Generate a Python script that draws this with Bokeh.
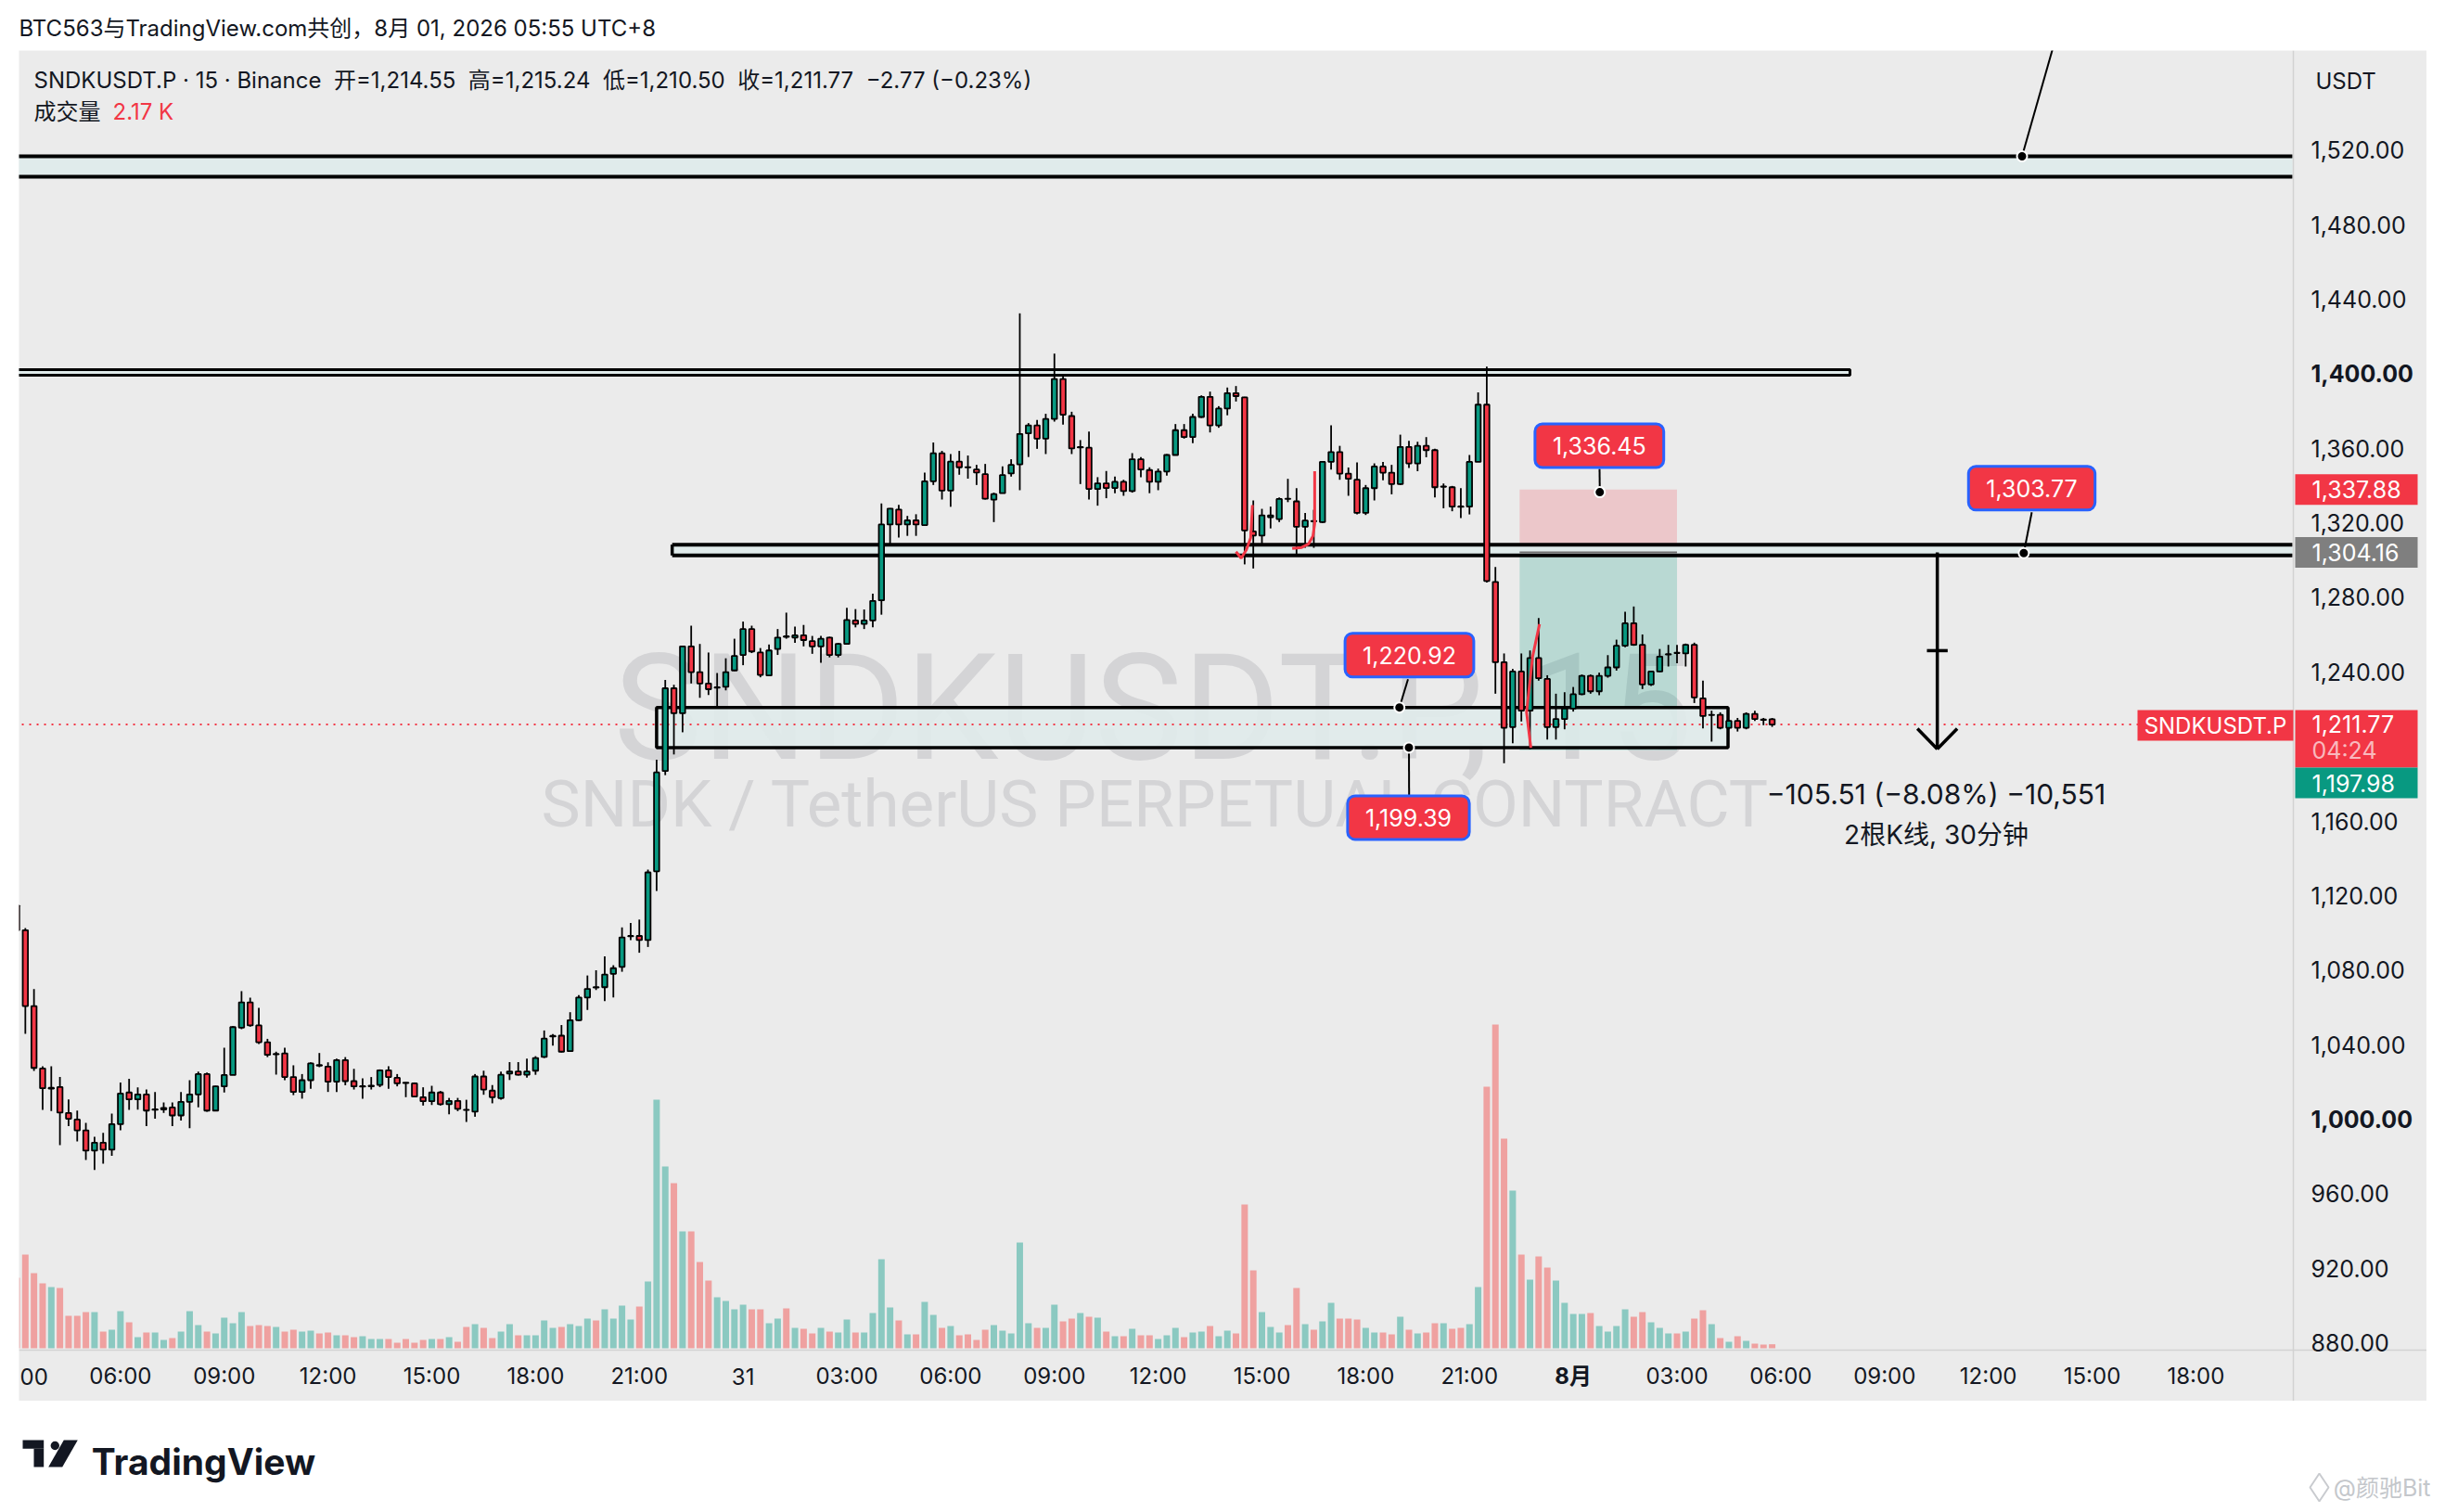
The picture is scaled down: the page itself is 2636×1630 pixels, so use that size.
from bokeh.plotting import figure
from bokeh.models import Range1d, Label, ColumnDataSource, Spacer
from bokeh.layouts import column, row
from bokeh.embed import file_html
from bokeh.resources import INLINE
from bokeh.core.properties import value

# ---------------- data (15-minute bars, bar 0 = Jul 30 03:00) ----------------
opens = [
    1114.6, 1101.4, 1060.7, 1027.2, 1016.4, 1017.2, 1003.3, 999.8, 994.0, 983.1,
    987.4, 983.6, 997.3, 1014.3, 1010.6, 1013.3, 1005.1, 1005.2, 1006.3, 1002.0,
    1009.3, 1013.3, 1024.2, 1004.6, 1017.6, 1023.7, 1049.1, 1062.7, 1050.3, 1041.3,
    1034.8, 1035.3, 1022.6, 1014.6, 1020.9, 1029.0, 1028.2, 1020.1, 1031.7, 1020.4,
    1017.5, 1017.6, 1018.4, 1026.2, 1022.2, 1019.6, 1019.2, 1011.8, 1009.6, 1014.3,
    1008.0, 1009.8, 1005.0, 1004.0, 1022.9, 1015.3, 1011.3, 1024.5, 1025.6, 1023.8,
    1026.0, 1033.4, 1044.4, 1044.8, 1036.5, 1053.1, 1065.3, 1070.9, 1070.8, 1078.0,
    1081.7, 1098.1, 1098.3, 1096.1, 1133.0, 1186.8, 1231.2, 1217.8, 1253.7, 1239.9,
    1233.8, 1231.5, 1232.0, 1240.8, 1249.1, 1263.0, 1250.4, 1238.1, 1252.3, 1259.1,
    1258.4, 1259.6, 1256.5, 1253.7, 1258.4, 1249.1, 1255.0, 1267.6, 1265.7, 1267.6,
    1278.4, 1319.1, 1327.1, 1319.1, 1321.3, 1318.8, 1342.3, 1357.3, 1337.3, 1352.8,
    1349.9, 1348.6, 1346.1, 1332.4, 1335.9, 1346.5, 1351.4, 1368.0, 1372.3, 1365.2,
    1375.7, 1397.2, 1377.3, 1360.5, 1360.3, 1338.2, 1341.2, 1338.7, 1342.0, 1337.0,
    1354.1, 1348.3, 1342.0, 1347.5, 1356.4, 1369.7, 1366.0, 1376.8, 1387.6, 1372.3,
    1381.3, 1389.6, 1387.3, 1315.4, 1313.2, 1323.0, 1322.0, 1332.9, 1331.5, 1317.9,
    1321.0, 1320.4, 1352.7, 1358.0, 1346.4, 1343.1, 1325.3, 1338.6, 1350.2, 1346.9,
    1340.8, 1360.7, 1351.9, 1361.3, 1359.0, 1339.3, 1339.1, 1328.8, 1328.7, 1352.7,
    1383.4, 1288.3, 1245.2, 1210.4, 1240.2, 1219.2, 1247.4, 1236.2, 1210.4, 1214.7,
    1220.3, 1228.0, 1237.9, 1229.6, 1237.9, 1242.4, 1254.0, 1266.1, 1254.5, 1233.3,
    1240.2, 1249.3, 1250.3, 1249.9, 1254.5, 1225.8, 1216.8, 1217.0, 1210.0, 1213.7,
    1210.0, 1217.5, 1214.4, 1214.55]
highs = [
    1116.0, 1102.5, 1069.8, 1028.4, 1028.4, 1022.6, 1010.6, 1004.6, 998.0, 990.5,
    992.7, 1003.0, 1019.6, 1021.6, 1017.1, 1015.9, 1014.6, 1008.9, 1008.9, 1014.6,
    1020.9, 1025.5, 1025.0, 1017.9, 1038.3, 1049.9, 1068.7, 1065.2, 1059.7, 1043.1,
    1036.2, 1038.3, 1028.9, 1024.2, 1030.5, 1035.5, 1030.5, 1032.5, 1033.3, 1027.0,
    1021.9, 1022.6, 1026.7, 1028.4, 1024.2, 1019.8, 1019.7, 1017.1, 1017.9, 1015.1,
    1011.4, 1011.4, 1010.4, 1024.2, 1026.0, 1018.3, 1025.5, 1030.6, 1030.6, 1032.5,
    1033.8, 1047.6, 1045.7, 1050.5, 1057.4, 1066.6, 1077.1, 1079.9, 1087.4, 1082.6,
    1102.9, 1105.3, 1107.1, 1133.9, 1192.9, 1235.7, 1233.1, 1254.1, 1264.8, 1255.0,
    1250.4, 1239.4, 1247.3, 1257.8, 1267.0, 1264.8, 1252.8, 1254.7, 1263.0, 1271.8,
    1264.3, 1265.2, 1259.3, 1259.3, 1258.9, 1255.6, 1274.4, 1273.7, 1273.5, 1282.0,
    1330.4, 1327.9, 1329.6, 1323.7, 1324.6, 1347.0, 1363.1, 1358.6, 1356.9, 1358.6,
    1356.1, 1351.1, 1351.6, 1336.2, 1350.3, 1354.1, 1432.4, 1373.5, 1375.2, 1378.5,
    1410.8, 1398.4, 1379.6, 1364.4, 1369.0, 1344.5, 1347.8, 1344.8, 1343.1, 1357.4,
    1355.3, 1349.8, 1349.1, 1356.9, 1373.0, 1373.0, 1378.5, 1388.4, 1390.4, 1382.6,
    1392.6, 1393.4, 1387.6, 1332.0, 1327.5, 1328.7, 1333.6, 1343.6, 1338.6, 1325.3,
    1327.0, 1353.0, 1372.3, 1361.3, 1349.7, 1352.4, 1340.3, 1351.9, 1352.7, 1351.1,
    1367.3, 1364.0, 1363.5, 1366.0, 1359.7, 1341.1, 1339.8, 1338.6, 1356.4, 1390.0,
    1403.8, 1296.3, 1249.9, 1241.6, 1249.9, 1251.5, 1268.9, 1238.2, 1228.3, 1229.1,
    1231.9, 1238.6, 1238.6, 1239.6, 1249.0, 1257.3, 1272.3, 1275.1, 1260.1, 1240.7,
    1252.3, 1254.5, 1254.5, 1255.2, 1255.7, 1235.3, 1219.2, 1218.3, 1214.2, 1215.3,
    1218.3, 1219.2, 1215.3, 1215.24]
lows = [
    1100.0, 1045.8, 1025.9, 1005.0, 1004.3, 986.1, 996.3, 988.0, 978.1, 972.8,
    976.1, 980.3, 994.0, 1005.0, 1005.1, 996.3, 1000.2, 1003.3, 996.3, 999.3,
    995.2, 1006.3, 1004.0, 1004.3, 1014.3, 1023.7, 1048.3, 1049.6, 1040.3, 1033.3,
    1023.9, 1020.9, 1012.9, 1011.0, 1016.3, 1027.9, 1014.6, 1014.6, 1018.2, 1015.9,
    1011.0, 1015.9, 1017.2, 1016.3, 1017.6, 1011.8, 1011.8, 1007.3, 1007.6, 1007.3,
    1002.6, 1004.3, 998.5, 1001.3, 1013.1, 1008.5, 1010.4, 1021.0, 1023.4, 1022.3,
    1023.8, 1032.8, 1039.5, 1035.8, 1036.1, 1052.7, 1058.6, 1069.3, 1063.4, 1065.3,
    1079.1, 1096.1, 1089.3, 1092.4, 1122.4, 1184.6, 1195.7, 1207.6, 1233.8, 1226.1,
    1227.6, 1221.5, 1230.1, 1240.5, 1243.6, 1250.1, 1237.1, 1237.7, 1249.1, 1257.8,
    1255.6, 1253.7, 1249.7, 1244.9, 1247.8, 1247.8, 1255.0, 1263.9, 1263.0, 1263.9,
    1270.7, 1308.8, 1312.1, 1313.0, 1313.0, 1318.5, 1340.3, 1332.5, 1328.6, 1345.8,
    1343.7, 1340.3, 1332.5, 1320.4, 1335.9, 1344.8, 1337.5, 1355.3, 1359.7, 1356.9,
    1374.3, 1372.7, 1356.9, 1340.8, 1332.5, 1329.2, 1333.2, 1335.9, 1334.5, 1336.2,
    1344.5, 1335.9, 1337.5, 1345.3, 1356.4, 1365.2, 1362.7, 1376.3, 1368.5, 1371.0,
    1377.7, 1385.1, 1297.7, 1295.5, 1308.7, 1317.0, 1320.4, 1331.1, 1302.6, 1306.6,
    1306.6, 1319.9, 1348.6, 1343.1, 1334.5, 1324.5, 1324.2, 1332.0, 1342.8, 1335.3,
    1340.3, 1349.4, 1347.7, 1355.2, 1333.6, 1327.8, 1326.2, 1322.5, 1324.5, 1352.7,
    1288.0, 1228.3, 1191.0, 1201.7, 1213.4, 1198.4, 1235.3, 1203.7, 1203.7, 1209.2,
    1218.7, 1227.5, 1228.3, 1227.5, 1236.9, 1240.7, 1253.2, 1254.0, 1230.8, 1232.4,
    1239.9, 1242.9, 1244.6, 1242.9, 1223.3, 1209.7, 1202.6, 1209.2, 1209.2, 1208.0,
    1209.2, 1213.7, 1211.4, 1210.50]
closes = [
    1101.4, 1060.7, 1027.5, 1016.6, 1016.8, 1003.5, 1000.2, 994.0, 983.1, 987.4,
    983.6, 997.3, 1013.8, 1010.6, 1013.3, 1004.6, 1005.3, 1006.0, 1002.0, 1009.3,
    1013.3, 1024.2, 1004.6, 1017.6, 1023.7, 1049.4, 1062.7, 1050.3, 1041.3, 1034.5,
    1035.0, 1022.6, 1014.6, 1020.9, 1029.9, 1028.7, 1020.1, 1031.7, 1020.4, 1017.6,
    1017.7, 1018.0, 1026.2, 1022.6, 1019.2, 1019.4, 1012.1, 1009.6, 1014.3, 1008.0,
    1009.8, 1005.5, 1004.9, 1022.9, 1015.9, 1011.8, 1023.8, 1025.6, 1023.8, 1025.6,
    1032.8, 1043.2, 1044.7, 1036.2, 1053.1, 1065.3, 1069.9, 1070.6, 1077.6, 1081.0,
    1097.5, 1098.3, 1096.1, 1132.4, 1186.1, 1231.2, 1217.8, 1253.7, 1239.9, 1233.8,
    1230.7, 1231.7, 1239.9, 1248.6, 1263.0, 1251.0, 1238.4, 1251.5, 1258.4, 1258.8,
    1259.6, 1257.1, 1253.7, 1257.8, 1249.1, 1255.0, 1267.9, 1265.7, 1267.6, 1278.1,
    1319.1, 1327.6, 1319.1, 1321.3, 1319.1, 1342.3, 1357.3, 1337.3, 1352.8, 1349.8,
    1349.7, 1347.0, 1332.9, 1335.4, 1345.6, 1351.1, 1367.7, 1372.3, 1365.2, 1375.7,
    1397.2, 1378.0, 1359.9, 1360.7, 1338.2, 1341.2, 1338.7, 1342.0, 1337.0, 1354.1,
    1348.6, 1342.0, 1347.5, 1356.4, 1369.7, 1366.0, 1376.8, 1387.6, 1372.3, 1381.3,
    1389.6, 1388.0, 1315.9, 1313.2, 1324.0, 1324.0, 1332.8, 1332.8, 1317.9, 1321.2,
    1320.8, 1352.7, 1358.0, 1346.4, 1343.6, 1325.3, 1338.6, 1350.2, 1346.9, 1340.8,
    1360.7, 1351.9, 1361.3, 1359.0, 1339.1, 1339.5, 1328.7, 1328.6, 1352.7, 1383.4,
    1288.8, 1245.2, 1210.0, 1240.2, 1219.2, 1247.4, 1236.6, 1210.4, 1214.7, 1220.3,
    1228.0, 1237.9, 1229.6, 1237.9, 1242.4, 1254.0, 1266.1, 1254.5, 1233.3, 1240.2,
    1248.2, 1249.5, 1250.1, 1254.5, 1226.3, 1216.3, 1217.0, 1210.0, 1213.7, 1210.0,
    1217.5, 1214.7, 1214.2, 1211.77]
volumes_k = [
    38, 50.5, 40.5, 35, 33, 32.5, 17.5, 17.5, 19.5, 19.5,
    9, 10, 20, 14, 6, 8.5, 8.5, 4.5, 5.5, 9,
    20, 12.5, 9, 8, 16.5, 13.5, 19.5, 12, 12.5, 12,
    11.5, 9, 10, 9, 9.5, 8, 8.5, 7, 7, 6,
    6.5, 5, 5, 5, 3, 5, 3, 4.5, 5, 5,
    6, 3.5, 11.5, 13, 11, 5.5, 9, 13, 7, 7,
    7, 15, 11, 11.5, 13, 12, 16, 15, 21, 16,
    23, 15.5, 22.5, 36, 134, 98, 89, 63, 63, 46.5,
    36.5, 27.5, 25.5, 21, 23.5, 21, 21, 13.5, 16, 21.5,
    11, 10.5, 8, 11, 9, 8.5, 15.5, 8.5, 8.5, 19,
    48, 22, 15, 7.5, 7.5, 25, 18, 11, 12, 7,
    7.5, 4.5, 10, 12.5, 9.5, 8, 57, 13.5, 11, 11,
    23.5, 14.5, 16, 19, 17, 16.5, 9, 6.5, 6.5, 10.5,
    7, 7, 5, 7, 11, 6, 8.5, 9, 12, 6.5,
    9.5, 8, 77.5, 42, 19.5, 11.5, 8.5, 12.5, 32.5, 13,
    10, 14.5, 24.5, 16, 16, 15.5, 11, 8.5, 8.5, 7.5,
    17, 10, 8, 8.5, 13.5, 13.5, 10.5, 11, 13, 33,
    141, 174.5, 113, 85, 50.5, 37, 49.5, 43.5, 36.5, 24.5,
    18.5, 18.5, 19, 12, 9, 12, 21, 17, 19.5, 14,
    11, 8, 8, 9, 16, 20.5, 13, 5.5, 3.5, 6.5,
    4, 2.5, 2, 2.17]

price_ticks = [880, 920, 960, 1000, 1040, 1080, 1120, 1160, 1200, 1240,
               1280, 1320, 1360, 1400, 1440, 1480, 1520]
bold_price_ticks = [1000, 1400]
time_tick_bars = [2, 12, 24, 36, 48, 60, 72, 84, 96, 108, 120, 132, 144, 156,
                  168, 180, 192, 204, 216, 228, 240, 252]
time_tick_labels = ["00", "06:00", "09:00", "12:00", "15:00", "18:00", "21:00", "31",
                    "03:00", "06:00", "09:00", "12:00", "15:00", "18:00", "21:00", "8月",
                    "03:00", "06:00", "09:00", "12:00", "15:00", "18:00"]
bold_time_labels = ["8月"]

# drawn levels
top_band = (1505.7, 1516.7)
resistance_band = (1399.2, 1402.2)
resistance_end_bar = 212.0
mid_band = (1302.5, 1308.3)
mid_band_start_bar = 75.8
zone_box = (1199.39, 1220.92)
zone_box_bars = (74.0, 197.9)
stop_price, entry_price, target_price = 1337.88, 1304.16, 1197.98
position_bars = (173.8, 192.0)
measure_bar = 222.1
measure_change = -105.51
callout_texts = ["1,220.92", "1,199.39", "1,336.45", "1,303.77"]
callout_prices = [1220.92, 1199.39, 1336.45, 1303.77]
callout_bars = [159.9, 161.0, 183.07, 232.1]

# ---------------- styling helpers ----------------
FONT = "Inter, 'Noto Sans CJK SC', sans-serif"
BG = "#ebebeb"
TXT = "#131722"
RED = "#f23645"
GREEN = "#089981"
ZONE = "#e0ebeb"
SEP = "#d2d2d2"
GAP = "\u00a0 "

X0, XS = 17.5, 9.323      # page x of bar 0, px per bar
Y0, YS = 1206.0, 2.009    # page y of price 1000, px per price unit


def bx(px):
    return (px - X0) / XS


def py(pyy):
    return 1000 + (Y0 - pyy) / YS


PANE_R = bx(2471)     # right edge of the price pane
PANE_B = py(1456)     # bottom edge of the price pane

# ---------------- main chart (pane + price scale + time scale) ----------------
p = figure(width=2596, height=1456, x_range=Range1d(bx(20), bx(2616)),
           y_range=Range1d(py(1510), py(54)),
           output_backend="svg", toolbar_location=None, min_border=0,
           background_fill_color=BG, border_fill_color=BG, outline_line_color=None)
p.axis.visible = False
p.grid.visible = False
p.extra_y_ranges = {"vol": Range1d(-28.5, 699.5)}

# watermarks
p.text(x=[bx(1243)], y=[py(763.3)], text=["SNDKUSDT.P, 15"], text_font=value("Roboto"),
       text_font_size="160px", text_color="#d4d4d6", text_align="center",
       text_baseline="alphabetic")
p.text(x=[bx(1245)], y=[py(866)], text=["SNDK / TetherUS PERPETUAL CONTRACT"],
       text_font=value("Roboto"), text_font_size="71px", text_color="#d4d4d6",
       text_align="center", text_baseline="alphabetic")

bars = list(range(len(opens)))
up = [c >= o for o, c in zip(opens, closes)]
src = ColumnDataSource(dict(
    x=bars, o=opens, h=highs, l=lows, c=closes, v=volumes_k,
    top=[max(o, c) for o, c in zip(opens, closes)],
    bot=[min(o, c) for o, c in zip(opens, closes)],
    col=[GREEN if u else RED for u in up],
    vcol=["#8bc9c1" if u else "#efa1a0" for u in up]))

# volume
p.vbar(x="x", top="v", bottom=0, width=0.75, fill_color="vcol", line_color=None,
       source=src, y_range_name="vol")

# position tool zones
p.quad(left=[position_bars[0]], right=[position_bars[1]], top=[stop_price],
       bottom=[entry_price], fill_color=RED, fill_alpha=0.2, line_color=None)
p.quad(left=[position_bars[0]], right=[position_bars[1]], top=[entry_price],
       bottom=[target_price], fill_color=GREEN, fill_alpha=0.22, line_color=None)

# bands / boxes (open-ended bands: fill + horizontal edges only)
p.quad(left=[-20, mid_band_start_bar], right=[PANE_R, PANE_R],
       bottom=[top_band[0], mid_band[0]], top=[top_band[1], mid_band[1]],
       fill_color=ZONE, line_color=None)
p.segment(x0=[-20, -20, mid_band_start_bar, mid_band_start_bar],
          x1=[PANE_R] * 4,
          y0=[top_band[0], top_band[1], mid_band[0], mid_band[1]],
          y1=[top_band[0], top_band[1], mid_band[0], mid_band[1]],
          line_color="black", line_width=4)
p.segment(x0=[mid_band_start_bar], x1=[mid_band_start_bar], y0=[mid_band[0]],
          y1=[mid_band[1]], line_color="black", line_width=3.5)
p.quad(left=[-20], right=[resistance_end_bar], bottom=[resistance_band[0]],
       top=[resistance_band[1]], fill_color=ZONE, line_color="black", line_width=3)
p.quad(left=[zone_box_bars[0]], right=[zone_box_bars[1]], bottom=[zone_box[0]],
       top=[zone_box[1]], fill_color=ZONE, fill_alpha=0.9, line_color="black", line_width=3.5)
p.segment(x0=[position_bars[0]], x1=[position_bars[1]], y0=[entry_price], y1=[entry_price],
          line_color="#6f6f6f", line_width=2)

# last price dotted line
p.line(x=[-20, PANE_R], y=[closes[-1], closes[-1]], line_color=RED, line_width=2,
       line_dash="2 6")

# candles
p.segment(x0="x", x1="x", y0="h", y1="l", line_color="black", line_width=1.8, source=src)
p.vbar(x="x", top="top", bottom="bot", width=0.6, fill_color="col", line_color="black",
       line_width=1.8, source=src)

# hand-drawn red marks
p.multi_line(xs=[[141.0, 141.6, 142.2, 142.7, 142.9],
                 [147.5, 148.6, 149.4, 149.9, 150.1, 150.1],
                 [176.1, 175.3, 174.6, 175.1]],
             ys=[[1304.5, 1301.0, 1305.5, 1312.0, 1329.5],
                 [1306.3, 1306.8, 1308.7, 1312.9, 1319.5, 1347.7],
                 [1265.6, 1248.2, 1218.3, 1199.3]],
             line_color=RED, line_width=3)

# diagonal line at top right
p.line(x=[231.9, 236.4], y=[1516.7, 1590.0], line_color="black", line_width=2)

# callout pointers
box_centers = [(1519, 705.7), (1518, 880.9), (1723.8, 480.0), (2190, 525.8)]
ptr_ends = [(1517.5, 731.7), (1518.7, 857.0), (1724.0, 505.0), (2190.0, 551.7)]
p.segment(x0=callout_bars, y0=callout_prices,
          x1=[bx(e[0]) for e in ptr_ends], y1=[py(e[1]) for e in ptr_ends],
          line_color="black", line_width=2)
p.scatter(x=callout_bars + [231.9], y=callout_prices + [1516.7], marker="circle", size=11,
          fill_color="black", line_color="white", line_width=2)

# measurement arrow
m_top = entry_price
m_bot = entry_price + measure_change
p.segment(x0=[measure_bar, measure_bar - 2.3, measure_bar + 2.3, measure_bar - 1.2],
          x1=[measure_bar, measure_bar, measure_bar, measure_bar + 1.2],
          y0=[m_top, m_bot + 10.9, m_bot + 10.9, (m_top + m_bot) / 2],
          y1=[m_bot, m_bot, m_bot, (m_top + m_bot) / 2],
          line_color="black", line_width=3.5)

# separators between pane and scales
p.segment(x0=[bx(2472), bx(20)], x1=[bx(2472), bx(2616)], y0=[py(1510), py(1455)],
          y1=[py(54), py(1455)], line_color=SEP, line_width=1.5)

# price scale labels
norm_ticks = [t for t in price_ticks if t not in bold_price_ticks]
p.text(x=[bx(2491)] * len(norm_ticks), y=norm_ticks, text=[f"{t:,.2f}" for t in norm_ticks],
       text_font=value(FONT), text_font_size="25px", text_color=TXT,
       text_align="left", text_baseline="middle")
p.text(x=[bx(2491)] * len(bold_price_ticks), y=bold_price_ticks,
       text=[f"{t:,.2f}" for t in bold_price_ticks], text_font=value(FONT),
       text_font_size="25px", text_font_style="bold", text_color=TXT,
       text_align="left", text_baseline="middle")
p.text(x=[bx(2496)], y=[py(87)], text=["USDT"], text_font=value(FONT),
       text_font_size="24px", text_color=TXT, text_align="left", text_baseline="middle")

# time scale labels
tl_norm = [(b, t) for b, t in zip(time_tick_bars, time_tick_labels) if t not in bold_time_labels]
tl_bold = [(b, t) for b, t in zip(time_tick_bars, time_tick_labels) if t in bold_time_labels]
p.text(x=[b for b, _ in tl_norm], y=[py(1483)] * len(tl_norm), text=[t for _, t in tl_norm],
       text_font=value(FONT), text_font_size="24px", text_color=TXT,
       text_align="center", text_baseline="middle")
p.text(x=[b for b, _ in tl_bold], y=[py(1483)] * len(tl_bold), text=[t for _, t in tl_bold],
       text_font=value(FONT), text_font_size="24px", text_font_style="bold", text_color=TXT,
       text_align="center", text_baseline="middle")

# price tags on the scale
TAG_X = bx(2540)
tag_y = [stop_price, entry_price, py(796), py(843.5)]
tag_h = [33, 33, 62, 33]
tag_c = [RED, "#7f7f7f", RED, GREEN]
p.rect(x=[TAG_X] * 4, y=tag_y, width=132, height=tag_h, width_units="screen",
       height_units="screen", fill_color=tag_c, line_color=None)
p.text(x=[bx(2492)] * 4, y=[stop_price, entry_price, py(780), py(843.5)],
       text=[f"{stop_price:,.2f}", f"{entry_price:,.2f}", f"{closes[-1]:,.2f}",
             f"{target_price:,.2f}"],
       text_font=value(FONT), text_font_size="25px", text_color="white",
       text_align="left", text_baseline="middle")
p.text(x=[bx(2492)], y=[py(808)], text=["04:24"], text_font=value(FONT),
       text_font_size="25px", text_color="#f9b9be", text_align="left",
       text_baseline="middle")
# symbol tag inside the pane
p.rect(x=[bx(2388)], y=[py(781.5)], width=168, height=33, width_units="screen",
       height_units="screen", fill_color=RED, line_color=None)
p.text(x=[bx(2388)], y=[py(781.5)], text=["SNDKUSDT.P"], text_font=value(FONT),
       text_font_size="24px", text_color="white", text_align="center",
       text_baseline="middle")

# callout labels
for txt, (cx, cy) in zip(callout_texts, box_centers):
    p.add_layout(Label(x=bx(cx), y=py(cy), text=txt, text_align="center",
                       text_baseline="middle", text_font=FONT, text_font_size="25px",
                       text_color="white", background_fill_color=RED,
                       border_line_color="#2962ff", border_line_width=3, border_radius=8,
                       padding=(19, 14)))

p.add_layout(Label(x=bx(2087), y=py(855), text="−105.51 (−8.08%) −10,551",
                   text_align="center", text_baseline="alphabetic", text_font=FONT,
                   text_font_size="30px", text_color=TXT))
p.add_layout(Label(x=bx(2087), y=py(899), text="2根K线, 30分钟",
                   text_align="center", text_baseline="alphabetic", text_font=FONT,
                   text_font_size="28px", text_color=TXT))

# legend rows
legend_row = GAP.join(["SNDKUSDT.P · 15 · Binance", "开=1,214.55", "高=1,215.24",
                       "低=1,210.50", "收=1,211.77", "−2.77 (−0.23%)"])
p.add_layout(Label(x=bx(36), y=py(86), text=legend_row,
                   text_align="left", text_baseline="middle", text_font=FONT,
                   text_font_size="24px", text_color=TXT))
p.add_layout(Label(x=bx(36), y=py(119.5), text="成交量", text_align="left",
                   text_baseline="middle", text_font=FONT, text_font_size="24px",
                   text_color=TXT))
p.add_layout(Label(x=bx(121), y=py(119.5), text="2.17 K", text_align="left",
                   text_baseline="middle", text_font=FONT, text_font_size="24px",
                   text_color=RED))

# ---------------- header ----------------
hdr = figure(width=2620, height=46, x_range=Range1d(0, 2620), y_range=Range1d(0, 46),
             output_backend="svg", toolbar_location=None, min_border=0,
             outline_line_color=None, background_fill_color="white",
             border_fill_color="white")
hdr.axis.visible = False
hdr.grid.visible = False
hdr.text(x=[12], y=[24], text=["BTC563与TradingView.com共创，8月 01, 2026 05:55 UTC+8"],
         text_font=value(FONT), text_font_size="24px", text_color=TXT,
         text_baseline="middle", text_align="left")

# ---------------- footer ----------------
ftr = figure(width=2620, height=112, x_range=Range1d(0, 2620), y_range=Range1d(0, 112),
             output_backend="svg", toolbar_location=None, min_border=0,
             outline_line_color=None, background_fill_color="white",
             border_fill_color="white")
ftr.axis.visible = False
ftr.grid.visible = False
ftr.quad(left=[16, 28], right=[38.7, 38.7], top=[70, 60.7], bottom=[60.7, 41],
         fill_color=TXT, line_color=None)
ftr.circle(x=[50.8], y=[64], radius=4.7, fill_color=TXT, line_color=None)
ftr.patch(x=[60.3, 75.3, 58.7, 43.7], y=[70, 70, 41, 41], fill_color=TXT, line_color=None)
ftr.text(x=[90.3], y=[47], text=["TradingView"], text_font=value("Inter"),
         text_font_size="39px", text_font_style="bold", text_color=TXT,
         text_baseline="alphabetic", text_align="left")
ftr.scatter(x=[2492], y=[19], marker="diamond", size=30, fill_color=None,
            line_color="#c9cbcf", line_width=2)
ftr.text(x=[2612], y=[19], text=["@颜驰Bit"], text_font=value(FONT),
         text_font_size="25px", text_color="#c4c7cb", text_baseline="middle",
         text_align="right")

inner = column(hdr, row(Spacer(width=12, height=1456), p), ftr)
layout = column(Spacer(width=2628, height=8), row(Spacer(width=8, height=1614), inner))
open("out.html", "w").write(file_html(layout, INLINE))
